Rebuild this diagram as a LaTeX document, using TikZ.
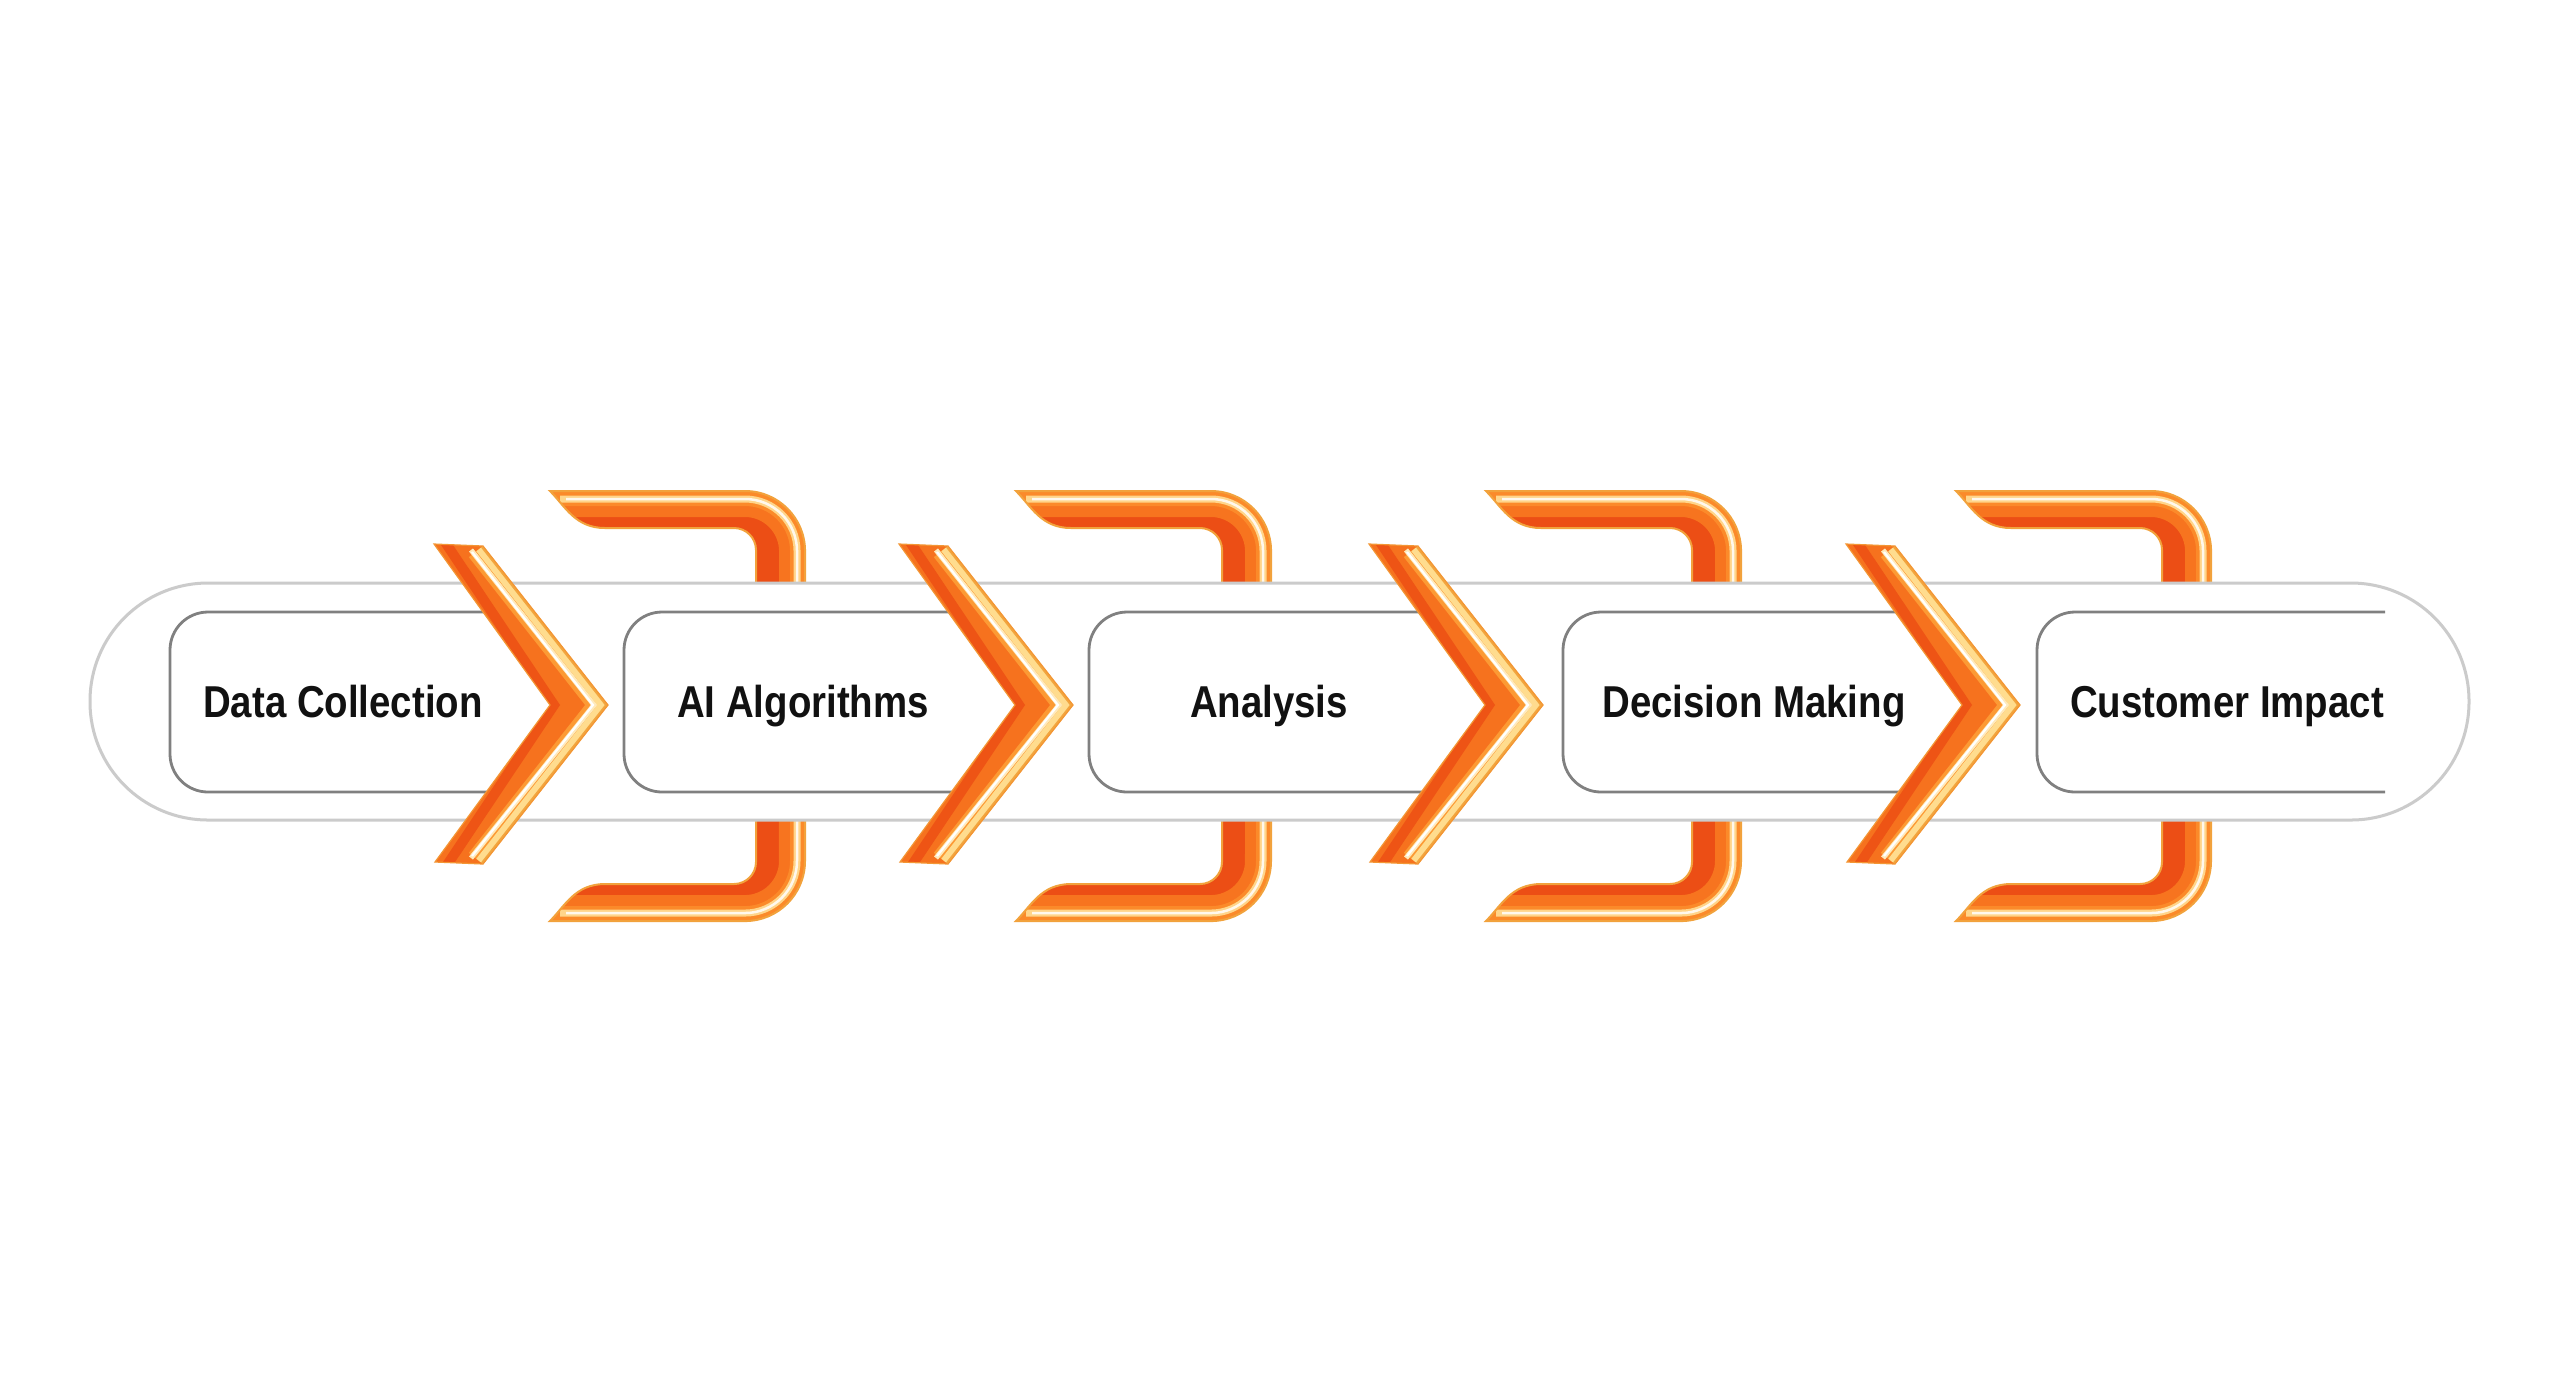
\documentclass[tikz,border=0pt]{standalone}
\usepackage{fontspec}
\setmainfont{Liberation Sans}[FakeStretch=0.86]
\definecolor{brkbase}{HTML}{EC4E15}
\definecolor{brkband}{HTML}{F7741F}
\definecolor{brkband2}{HTML}{FB8A2A}
\definecolor{brkhl}{HTML}{FFD58A}
\definecolor{brkedge}{HTML}{F2A23C}
\definecolor{chvbase}{HTML}{F6721E}
\definecolor{chvdark}{HTML}{EE5415}
\definecolor{chvmid}{HTML}{FC9A34}
\definecolor{chvhl}{HTML}{FFDC8E}
\definecolor{chvedge}{HTML}{F2A53E}
\definecolor{pillgray}{HTML}{CBCBCB}
\definecolor{boxgray}{HTML}{808080}
\definecolor{txt}{HTML}{111111}
\begin{document}
\begin{tikzpicture}[x=0.01cm,y=-0.01cm,
  brkshape/.style={insert path={(550,491) -- (745,491) arc[start angle=90,end angle=0,radius=0.6cm] -- (805,861) arc[start angle=0,end angle=-90,radius=0.6cm] -- (550,921) .. controls (565,906) and (575,884) .. (605,884) -- (734,884) arc[start angle=-90,end angle=0,radius=0.22cm] -- (756,550) arc[start angle=0,end angle=90,radius=0.22cm] -- (605,528) .. controls (575,528) and (565,506) .. (550,491) -- cycle}},
  brkouter/.style={insert path={(548,491) -- (745,491) arc[start angle=90,end angle=0,radius=0.6cm] -- (805,861) arc[start angle=0,end angle=-90,radius=0.6cm] -- (548,921)}},
  chvshape/.style={insert path={(434,544) -- (483,546) -- (608,705) -- (483,864) -- (435,862) -- (550,705) -- cycle}},
  pillst/.style={draw=pillgray,fill=white,line width=0.03cm,rounded corners=1.18cm},
  boxst/.style={draw=boxgray,line width=0.028cm,rounded corners=0.38cm},
  lbl/.style={font=\fontsize{12.7}{15}\selectfont\bfseries,text=txt,anchor=base,inner sep=0pt}
]
\useasboundingbox (0,0) rectangle (2560,1396);
\fill[white] (0,0) rectangle (2560,1396);

% brackets (behind the band)
\foreach \dx in {0,466,936,1406}{
  \begin{scope}[shift={(\dx,0)}]
    \begin{scope}
      \clip[brkshape];
      \fill[brkbase] (540,480) rectangle (820,935);
      \draw[brkband,line width=0.52cm,brkouter];
      \draw[brkband2,line width=0.3cm,brkouter];
      \draw[brkhl,line width=0.07cm] (560,499) -- (745,499) arc[start angle=90,end angle=0,radius=0.52cm] -- (797,861) arc[start angle=0,end angle=-90,radius=0.52cm] -- (560,913);
      \draw[white,opacity=0.85,line width=0.025cm] (566,499) -- (745,499) arc[start angle=90,end angle=0,radius=0.52cm] -- (797,861) arc[start angle=0,end angle=-90,radius=0.52cm] -- (566,913);
    \end{scope}
    \draw[brkedge,line width=0.02cm,brkshape];
  \end{scope}
}

% outer band
\path[pillst] (90,583) rectangle (2469,820);

% inner boxes (open on the right)
\draw[boxst] (510,612) -- (170,612) -- (170,792) -- (510,792);
\draw[boxst] (975,612) -- (624,612) -- (624,792) -- (975,792);
\draw[boxst] (1445,612) -- (1089,612) -- (1089,792) -- (1445,792);
\draw[boxst] (1922,612) -- (1563,612) -- (1563,792) -- (1922,792);
\draw[boxst] (2385,612) -- (2037,612) -- (2037,792) -- (2385,792);

% chevrons
\foreach \dx in {0,465,935,1412}{
  \begin{scope}[shift={(\dx,0)}]
    \begin{scope}
      \clip[chvshape];
      \fill[chvbase] (425,535) rectangle (615,875);
      \draw[chvdark,line width=0.1cm] (437,530) -- (554,705) -- (437,880);
      \draw[chvmid,line width=0.36cm] (483,546) -- (608,705) -- (483,864);
      \draw[chvhl,line width=0.17cm] (483,546) -- (608,705) -- (483,864);
      \draw[chvhl!60!white,line width=0.05cm] (471,550) -- (594,705) -- (471,858);
      \draw[white,line width=0.022cm] (472,552) -- (593,705) -- (472,856);
      \draw[chvedge,line width=0.05cm] (483,546) -- (608,705) -- (483,864);
    \end{scope}
    \draw[chvedge!70!chvbase,line width=0.012cm,chvshape];
  \end{scope}
}

% labels
\node[lbl] (t1) at (343,717) {Data Collection};
\node[lbl] (t2) at (803,717) {AI Algorithms};
\node[lbl] (t3) at (1269,717) {Analysis};
\node[lbl] (t4) at (1754,717) {Decision Making};
\node[lbl] (t5) at (2227,717) {Customer Impact};
\end{tikzpicture}
\end{document}
